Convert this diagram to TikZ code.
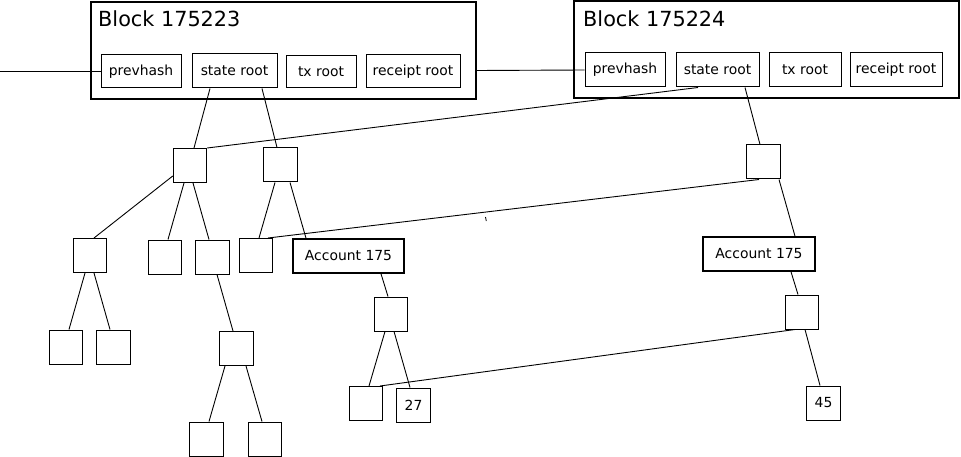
\documentclass[tikz,border=0pt]{standalone}
\usepackage{fontspec}
\setmainfont{DejaVu Sans}
\begin{document}
\begin{tikzpicture}[x=1pt,y=-1pt,
  blockbox/.style={draw,line width=1.6pt,minimum width=385pt,minimum height=97pt,inner sep=0pt},
  title/.style={anchor=base west,inner sep=0pt,font=\fontsize{20.8}{24}\selectfont},
  field/.style={draw,line width=1pt,minimum height=33pt,inner sep=0pt,font=\fontsize{13.9}{16}\selectfont},
  sq/.style={draw,line width=1pt,minimum width=33.5pt,minimum height=34pt,inner sep=0pt,font=\fontsize{13.9}{16}\selectfont},
  acc/.style={draw,line width=1.6pt,minimum height=34pt,inner sep=0pt,font=\fontsize{13.9}{16}\selectfont},
  edge/.style={line width=0.9pt}]
\useasboundingbox (0,0) rectangle (961,457);
% blocks
\node[blockbox] (blk1) at (283.5,50.5) {};
\node[blockbox] (blk2) at (766.5,49.5) {};
\node[title] (ttl1) at (98,27) {Block 175223};
\node[title] (ttl2) at (583,27) {Block 175224};
\node[field,minimum width=80pt] (p1) at (141,71.5) {prevhash};
\node[field,minimum width=85pt,minimum height=34pt] (s1) at (234.5,71) {state root};
\node[field,minimum width=70pt,minimum height=32pt] (t1) at (321,72) {tx root};
\node[field,minimum width=94pt] (r1) at (413,71.5) {receipt root};
\node[field,minimum width=80pt,minimum height=34pt] (p2) at (625,70) {prevhash};
\node[field,minimum width=83pt,minimum height=34pt] (s2) at (717.5,70) {state root};
\node[field,minimum width=72pt,minimum height=34pt] (t2) at (805,70) {tx root};
\node[field,minimum width=92pt,minimum height=34pt] (r2) at (896,70) {receipt root};
% tree nodes
\node[sq] (A) at (190,165.5) {};
\node[sq] (B) at (280.5,165) {};
\node[sq] (C) at (763.5,162) {};
\node[sq] (D) at (256,255.5) {};
\node[acc,minimum width=111pt] (acc1) at (348.5,256) {Account 175};
\node[acc,minimum width=112pt] (acc2) at (759,254) {Account 175};
\node[sq] (E) at (165,257) {};
\node[sq] (F) at (212.5,257) {};
\node[sq] (G) at (90,255.5) {};
\node[sq] (H) at (66,347) {};
\node[sq] (I) at (113.5,347) {};
\node[sq] (J) at (236.5,348.5) {};
\node[sq] (K) at (206.5,439) {};
\node[sq] (L) at (265,439) {};
\node[sq] (M) at (391,314) {};
\node[sq] (N) at (366,403.5) {};
\node[sq] (O) at (413.5,405) {27};
\node[sq] (P) at (802,312) {};
\node[sq] (Q) at (823.5,403) {45};
% chain links
\coordinate (lft) at (0,71.5);
\draw[line width=1.3pt] (lft) -- (p1.west);
\draw[edge] ([yshift=-20pt]blk1.east) -- (p2.west);
% tree edges
\draw[edge] ([xshift=-24.5pt]s1.south) -- ([xshift=4pt]A.north);
\draw[edge] ([xshift=27.5pt]s1.south) -- ([xshift=-3.5pt]B.north);
\draw[edge] ([xshift=-19.5pt]s2.south) -- (A.north east);
\draw[edge] ([xshift=27.5pt]s2.south) -- ([xshift=-3.5pt]C.north);
\draw[edge] ([xshift=-4.5pt]C.south) -- ([xshift=12pt]D.north);
\draw[edge] ([xshift=15.5pt]C.south) -- ([xshift=36pt]acc2.north);
\draw[edge] ([xshift=-6pt]A.south) -- ([xshift=3pt]E.north);
\draw[edge] ([xshift=3pt]A.south) -- ([xshift=-3.5pt]F.north);
\draw[edge] ([yshift=-10.5pt]A.west) -- ([xshift=4pt]G.north);
\draw[edge] ([xshift=-5.5pt]B.south) -- ([xshift=3pt]D.north);
\draw[edge] ([xshift=9.5pt]B.south) -- ([xshift=-42.5pt]acc1.north);
\draw[edge] ([xshift=-5pt]G.south) -- ([xshift=3pt]H.north);
\draw[edge] ([xshift=4pt]G.south) -- ([xshift=-3.5pt]I.north);
\draw[edge] ([xshift=4.5pt]F.south) -- ([xshift=-3.5pt]J.north);
\draw[edge] ([xshift=-11.5pt]J.south) -- ([xshift=2.5pt]K.north);
\draw[edge] ([xshift=9.5pt]J.south) -- ([xshift=-3pt]L.north);
\draw[edge] ([xshift=32.5pt]acc1.south) -- ([xshift=-3pt]M.north);
\draw[edge] ([xshift=-6pt]M.south) -- ([xshift=3pt]N.north);
\draw[edge] ([xshift=3pt]M.south) -- ([xshift=-3.5pt]O.north);
\draw[edge] ([xshift=32pt]acc2.south) -- ([xshift=-4pt]P.north);
\draw[edge] ([xshift=-7pt]P.south) -- ([xshift=14pt]N.north);
\draw[edge] ([xshift=3pt]P.south) -- ([xshift=-3.5pt]Q.north);
% small stray tick
\coordinate (tk1) at (485.5,217);
\coordinate (tk2) at (486.3,221);
\draw[line width=0.8pt] (tk1) -- (tk2);
\end{tikzpicture}
\end{document}
